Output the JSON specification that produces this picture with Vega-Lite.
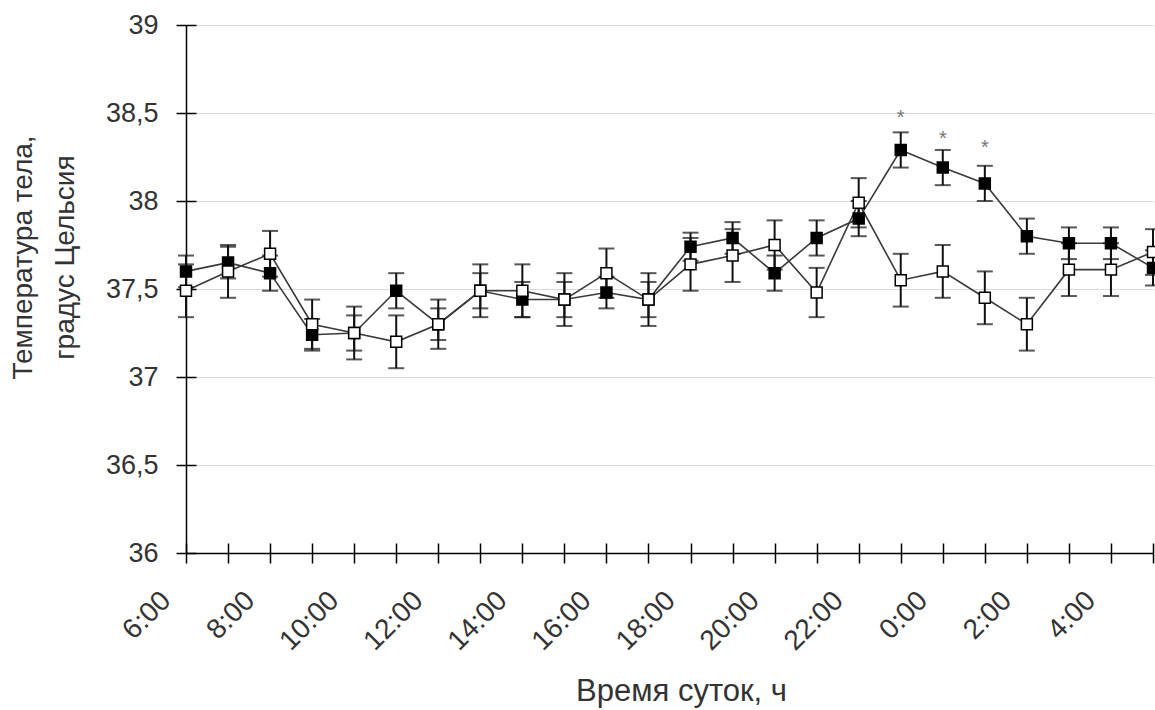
{
  "$schema": "https://vega.github.io/schema/vega-lite/v6.json",
  "width": 967,
  "height": 528,
  "autosize": {"type": "none"},
  "padding": {"left": 186, "top": 25, "right": 2, "bottom": 157},
  "background": "white",
  "config": {"view": {"stroke": null}, "font": "Liberation Sans"},
  "datasets": {
    "main": [
      {"t": 0, "g": "B", "v": 37.60, "e": 0.09},
      {"t": 1, "g": "B", "v": 37.65, "e": 0.09},
      {"t": 2, "g": "B", "v": 37.59, "e": 0.10},
      {"t": 3, "g": "B", "v": 37.24, "e": 0.09},
      {"t": 4, "g": "B", "v": 37.25, "e": 0.10},
      {"t": 5, "g": "B", "v": 37.49, "e": 0.10},
      {"t": 6, "g": "B", "v": 37.30, "e": 0.09},
      {"t": 7, "g": "B", "v": 37.49, "e": 0.10},
      {"t": 8, "g": "B", "v": 37.44, "e": 0.10},
      {"t": 9, "g": "B", "v": 37.44, "e": 0.10},
      {"t": 10, "g": "B", "v": 37.48, "e": 0.09},
      {"t": 11, "g": "B", "v": 37.44, "e": 0.10},
      {"t": 12, "g": "B", "v": 37.74, "e": 0.08},
      {"t": 13, "g": "B", "v": 37.79, "e": 0.09},
      {"t": 14, "g": "B", "v": 37.59, "e": 0.10},
      {"t": 15, "g": "B", "v": 37.79, "e": 0.10},
      {"t": 16, "g": "B", "v": 37.90, "e": 0.10},
      {"t": 17, "g": "B", "v": 38.29, "e": 0.10},
      {"t": 18, "g": "B", "v": 38.19, "e": 0.10},
      {"t": 19, "g": "B", "v": 38.10, "e": 0.10},
      {"t": 20, "g": "B", "v": 37.80, "e": 0.10},
      {"t": 21, "g": "B", "v": 37.76, "e": 0.09},
      {"t": 22, "g": "B", "v": 37.76, "e": 0.09},
      {"t": 23, "g": "B", "v": 37.62, "e": 0.10},
      {"t": 0, "g": "W", "v": 37.49, "e": 0.15},
      {"t": 1, "g": "W", "v": 37.60, "e": 0.15},
      {"t": 2, "g": "W", "v": 37.70, "e": 0.13},
      {"t": 3, "g": "W", "v": 37.30, "e": 0.14},
      {"t": 4, "g": "W", "v": 37.25, "e": 0.15},
      {"t": 5, "g": "W", "v": 37.20, "e": 0.15},
      {"t": 6, "g": "W", "v": 37.30, "e": 0.14},
      {"t": 7, "g": "W", "v": 37.49, "e": 0.15},
      {"t": 8, "g": "W", "v": 37.49, "e": 0.15},
      {"t": 9, "g": "W", "v": 37.44, "e": 0.15},
      {"t": 10, "g": "W", "v": 37.59, "e": 0.14},
      {"t": 11, "g": "W", "v": 37.44, "e": 0.15},
      {"t": 12, "g": "W", "v": 37.64, "e": 0.15},
      {"t": 13, "g": "W", "v": 37.69, "e": 0.15},
      {"t": 14, "g": "W", "v": 37.75, "e": 0.14},
      {"t": 15, "g": "W", "v": 37.48, "e": 0.14},
      {"t": 16, "g": "W", "v": 37.99, "e": 0.14},
      {"t": 17, "g": "W", "v": 37.55, "e": 0.15},
      {"t": 18, "g": "W", "v": 37.60, "e": 0.15},
      {"t": 19, "g": "W", "v": 37.45, "e": 0.15},
      {"t": 20, "g": "W", "v": 37.30, "e": 0.15},
      {"t": 21, "g": "W", "v": 37.61, "e": 0.15},
      {"t": 22, "g": "W", "v": 37.61, "e": 0.15},
      {"t": 23, "g": "W", "v": 37.71, "e": 0.13}
    ],
    "stars": [
      {"t": 17, "v": 38.50},
      {"t": 18, "v": 38.38},
      {"t": 19, "v": 38.33}
    ]
  },
  "data": {"name": "main"},
  "layer": [
    {
      "mark": {"type": "line", "color": "#3a3a3a", "strokeWidth": 1.6},
      "encoding": {
        "x": {
          "field": "t", "type": "quantitative",
          "scale": {"domain": [0, 23], "nice": false, "zero": false},
          "axis": {
            "values": [0,1,2,3,4,5,6,7,8,9,10,11,12,13,14,15,16,17,18,19,20,21,22,23],
            "labelExpr": "datum.value % 2 == 0 ? ((datum.value + 6) % 24) + ':00' : ''",
            "labelAngle": -45, "labelAlign": "right", "labelBaseline": "middle",
            "labelOffset": -20, "labelPadding": 33, "labelFontSize": 28, "labelColor": "#333",
            "labelOverlap": false, "labelBound": false, "labelFlush": false,
            "tickSize": 10, "tickColor": "#000", "tickWidth": 1.5,
            "domainColor": "#000", "domainWidth": 1.5, "grid": false,
            "title": "Время суток, ч", "titleFontSize": 31, "titleFontWeight": "normal",
            "titleColor": "#333", "titleY": 147, "titleX": 495, "titleBaseline": "alphabetic"
          }
        },
        "y": {
          "field": "v", "type": "quantitative",
          "scale": {"domain": [36, 39], "nice": false, "zero": false},
          "axis": {
            "values": [36, 36.5, 37, 37.5, 38, 38.5, 39],
            "labelExpr": "replace(toString(datum.value), '.', ',')",
            "labelFontSize": 27, "labelColor": "#333", "labelPadding": 18,
            "tickSize": 10, "tickColor": "#000", "tickWidth": 1.5,
            "domainColor": "#000", "domainWidth": 1.5,
            "grid": true, "gridColor": "#dadada", "gridWidth": 1,
            "title": ["Температура тела,", "градус Цельсия"],
            "titleFontSize": 28, "titleFontWeight": "normal", "titleColor": "#333",
            "titleAngle": 270, "titleX": -177, "titleY": 232,
            "titleBaseline": "top", "titleAlign": "center", "titleLineHeight": 42
          }
        },
        "detail": {"field": "g"}
      }
    },
    {
      "mark": {"type": "errorbar", "color": "#111", "thickness": 2, "ticks": {"size": 16, "thickness": 2, "color": "#111"}},
      "encoding": {
        "x": {"field": "t", "type": "quantitative", "axis": null},
        "y": {"field": "v", "type": "quantitative", "axis": null},
        "yError": {"field": "e"}
      }
    },
    {
      "mark": {"type": "point", "shape": "square", "filled": true, "size": 120, "stroke": "#000", "strokeWidth": 1.5, "opacity": 1},
      "encoding": {
        "x": {"field": "t", "type": "quantitative",
          "axis": {"orient": "bottom", "values": [0,1,2,3,4,5,6,7,8,9,10,11,12,13,14,15,16,17,18,19,20,21,22,23],
            "tickSize": -10, "labels": false, "domain": false, "grid": false, "title": null, "tickColor": "#000", "tickWidth": 1.5}},
        "y": {"field": "v", "type": "quantitative",
          "axis": {"orient": "left", "values": [36, 36.5, 37, 37.5, 38, 38.5, 39],
            "tickSize": -10, "labels": false, "domain": false, "grid": false, "title": null, "tickColor": "#000", "tickWidth": 1.5}},
        "fill": {"field": "g", "type": "nominal", "scale": {"domain": ["B", "W"], "range": ["#000000", "#ffffff"]}, "legend": null}
      }
    },
    {
      "data": {"name": "stars"},
      "mark": {"type": "text", "text": "*", "fontSize": 20, "baseline": "alphabetic", "dy": 11, "color": "#777"},
      "encoding": {
        "x": {"field": "t", "type": "quantitative", "axis": null},
        "y": {"field": "v", "type": "quantitative", "axis": null}
      }
    }
  ],
  "resolve": {"axis": {"x": "independent", "y": "independent"}}
}
